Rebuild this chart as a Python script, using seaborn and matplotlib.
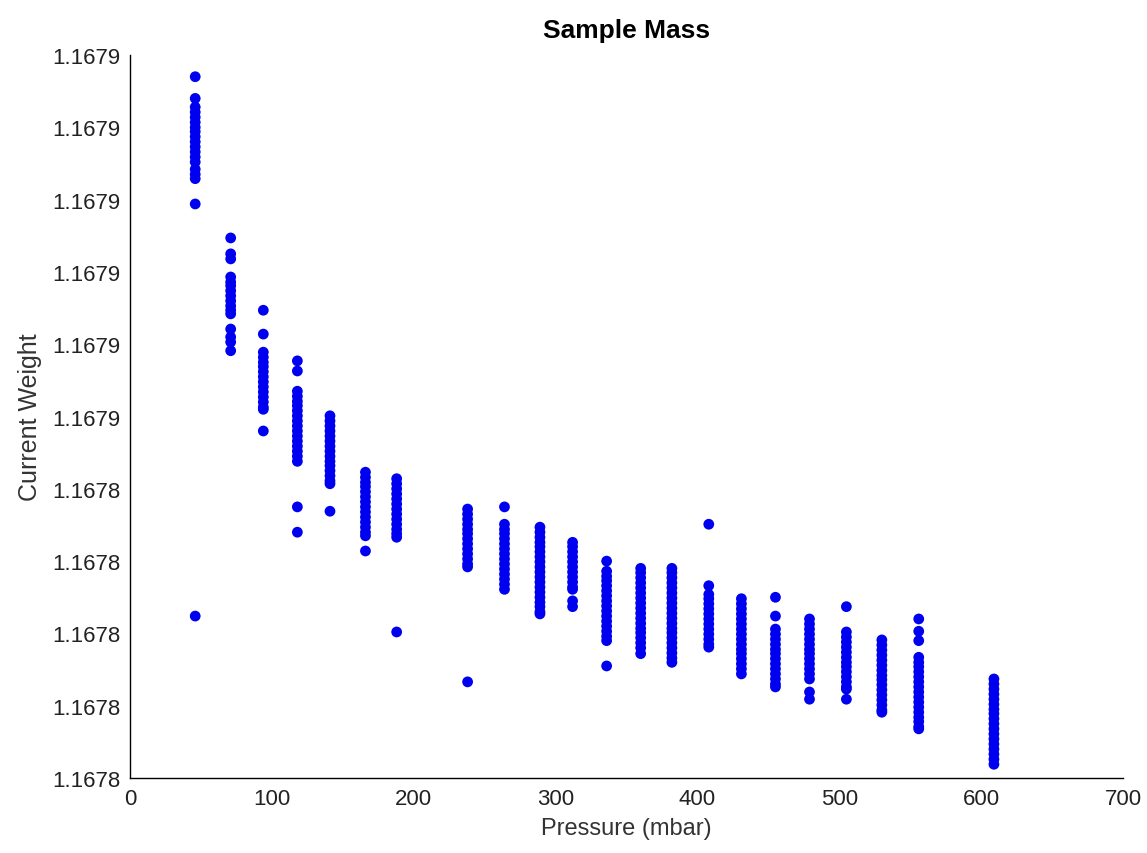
import seaborn as sns
import matplotlib.pyplot as plt
import pandas as pd

# ── data: pressure steps and the weights logged at each step ──────────────────
pressures = [46, 71, 94, 118, 141, 166, 188, 238, 264, 289, 312,
             336, 360, 382, 408, 431, 455, 479, 505, 530, 556, 609]

w_46 = [1.1678970, 1.1678940, 1.1678928, 1.1678921, 1.1678914, 1.1678907, 1.1678900,
        1.1678894, 1.1678887, 1.1678880, 1.1678873, 1.1678866, 1.1678859, 1.1678852,
        1.1678842, 1.1678835, 1.1678829, 1.1678794, 1.1678224]
w_71 = [1.1678747, 1.1678725, 1.1678718, 1.1678693, 1.1678686, 1.1678681, 1.1678674,
        1.1678667, 1.1678660, 1.1678653, 1.1678647, 1.1678642, 1.1678621, 1.1678610,
        1.1678603, 1.1678591]
w_94 = [1.1678647, 1.1678614, 1.1678589, 1.1678582, 1.1678575, 1.1678569, 1.1678562,
        1.1678555, 1.1678548, 1.1678541, 1.1678534, 1.1678527, 1.1678520, 1.1678513,
        1.1678510, 1.1678480]
w_118 = [1.1678577, 1.1678563, 1.1678535, 1.1678528, 1.1678521, 1.1678515, 1.1678508,
         1.1678501, 1.1678494, 1.1678487, 1.1678480, 1.1678473, 1.1678466, 1.1678459,
         1.1678452, 1.1678445, 1.1678438, 1.1678375, 1.1678340]
w_141 = [1.1678501, 1.1678494, 1.1678487, 1.1678480, 1.1678473, 1.1678466, 1.1678459,
         1.1678452, 1.1678445, 1.1678438, 1.1678432, 1.1678425, 1.1678418, 1.1678411,
         1.1678407, 1.1678369]
w_166 = [1.1678423, 1.1678416, 1.1678409, 1.1678403, 1.1678396, 1.1678389, 1.1678382,
         1.1678375, 1.1678368, 1.1678361, 1.1678354, 1.1678347, 1.1678340, 1.1678335,
         1.1678314]
w_188 = [1.1678414, 1.1678407, 1.1678400, 1.1678393, 1.1678386, 1.1678379, 1.1678372,
         1.1678365, 1.1678358, 1.1678351, 1.1678344, 1.1678338, 1.1678333, 1.1678202]
w_238 = [1.1678372, 1.1678365, 1.1678358, 1.1678351, 1.1678344, 1.1678338, 1.1678331,
         1.1678324, 1.1678317, 1.1678310, 1.1678303, 1.1678296, 1.1678292, 1.1678133]
w_264 = [1.1678375, 1.1678351, 1.1678344, 1.1678338, 1.1678331, 1.1678324, 1.1678317,
         1.1678310, 1.1678303, 1.1678296, 1.1678289, 1.1678282, 1.1678275, 1.1678268,
         1.1678261]
w_289 = [1.1678347, 1.1678340, 1.1678333, 1.1678326, 1.1678320, 1.1678313, 1.1678306,
         1.1678299, 1.1678292, 1.1678285, 1.1678278, 1.1678271, 1.1678264, 1.1678257,
         1.1678250, 1.1678243, 1.1678237, 1.1678230, 1.1678227]
w_312 = [1.1678326, 1.1678320, 1.1678313, 1.1678306, 1.1678299, 1.1678292, 1.1678285,
         1.1678278, 1.1678271, 1.1678264, 1.1678261, 1.1678245, 1.1678237]
w_336 = [1.1678300, 1.1678286, 1.1678279, 1.1678273, 1.1678266, 1.1678259, 1.1678252,
         1.1678245, 1.1678238, 1.1678231, 1.1678224, 1.1678217, 1.1678210, 1.1678203,
         1.1678196, 1.1678190, 1.1678155]
w_360 = [1.1678290, 1.1678284, 1.1678277, 1.1678270, 1.1678263, 1.1678256, 1.1678249,
         1.1678242, 1.1678235, 1.1678228, 1.1678221, 1.1678214, 1.1678207, 1.1678201,
         1.1678194, 1.1678187, 1.1678180, 1.1678172]
w_382 = [1.1678290, 1.1678284, 1.1678277, 1.1678270, 1.1678263, 1.1678256, 1.1678249,
         1.1678242, 1.1678235, 1.1678228, 1.1678221, 1.1678214, 1.1678207, 1.1678201,
         1.1678194, 1.1678187, 1.1678180, 1.1678173, 1.1678166, 1.1678160]
w_408 = [1.1678351, 1.1678266, 1.1678254, 1.1678248, 1.1678241, 1.1678234, 1.1678227,
         1.1678220, 1.1678213, 1.1678206, 1.1678199, 1.1678192, 1.1678185, 1.1678181]
w_431 = [1.1678248, 1.1678241, 1.1678234, 1.1678227, 1.1678220, 1.1678213, 1.1678206,
         1.1678199, 1.1678192, 1.1678185, 1.1678178, 1.1678172, 1.1678165, 1.1678158,
         1.1678151, 1.1678144]
w_455 = [1.1678250, 1.1678224, 1.1678206, 1.1678199, 1.1678192, 1.1678185, 1.1678178,
         1.1678172, 1.1678165, 1.1678158, 1.1678151, 1.1678144, 1.1678137, 1.1678130,
         1.1678126]
w_479 = [1.1678220, 1.1678213, 1.1678206, 1.1678199, 1.1678192, 1.1678185, 1.1678178,
         1.1678172, 1.1678165, 1.1678158, 1.1678151, 1.1678144, 1.1678137, 1.1678119,
         1.1678109]
w_505 = [1.1678237, 1.1678202, 1.1678195, 1.1678188, 1.1678181, 1.1678174, 1.1678167,
         1.1678160, 1.1678154, 1.1678147, 1.1678140, 1.1678133, 1.1678126, 1.1678123,
         1.1678109]
w_530 = [1.1678191, 1.1678184, 1.1678177, 1.1678170, 1.1678163, 1.1678156, 1.1678149,
         1.1678142, 1.1678136, 1.1678129, 1.1678122, 1.1678115, 1.1678108, 1.1678101,
         1.1678094, 1.1678091]
w_556 = [1.1678220, 1.1678203, 1.1678190, 1.1678167, 1.1678160, 1.1678154, 1.1678147,
         1.1678140, 1.1678133, 1.1678126, 1.1678119, 1.1678112, 1.1678105, 1.1678098,
         1.1678091, 1.1678084, 1.1678078, 1.1678071, 1.1678068]
w_609 = [1.1678137, 1.1678130, 1.1678123, 1.1678116, 1.1678109, 1.1678102, 1.1678095,
         1.1678089, 1.1678082, 1.1678075, 1.1678068, 1.1678061, 1.1678054, 1.1678047,
         1.1678040, 1.1678033, 1.1678026, 1.1678019]

weights = [w_46, w_71, w_94, w_118, w_141, w_166, w_188, w_238, w_264, w_289, w_312,
           w_336, w_360, w_382, w_408, w_431, w_455, w_479, w_505, w_530, w_556, w_609]

x_ticks = [0, 100, 200, 300, 400, 500, 600, 700]
y_ticks = [1.16780, 1.16781, 1.16782, 1.16783, 1.16784, 1.16785,
           1.16786, 1.16787, 1.16788, 1.16789, 1.16790]
y_tick_labels = ["1.1678"] * 5 + ["1.1679"] * 6

# long table for seaborn
rows = []
for p, ws in zip(pressures, weights):
    for w in ws:
        rows.append({"Pressure": p, "Weight": w})
df = pd.DataFrame(rows)

# ── plot ──────────────────────────────────────────────────────────────────────
sns.set_style("white")
plt.rcParams["font.family"] = ["Liberation Sans", "DejaVu Sans"]

fig = plt.figure(figsize=(11.47, 8.54), dpi=100)
ax = fig.add_axes([0.1133, 0.0878, 0.8658, 0.8466])

sns.scatterplot(data=df, x="Pressure", y="Weight", ax=ax,
                color="#0000f0", s=60, linewidth=0, edgecolor="none")

ax.set_xlim(0, 700)
ax.set_ylim(y_ticks[0], y_ticks[-1])
ax.set_xticks(x_ticks)
ax.set_xticklabels([str(t) for t in x_ticks])
ax.set_yticks(y_ticks)
ax.set_yticklabels(y_tick_labels)

sns.despine(ax=ax)
for side in ["left", "bottom"]:
    ax.spines[side].set_color("black")
    ax.spines[side].set_linewidth(1.0)
ax.tick_params(direction="in", length=5, width=1, colors="black",
               labelsize=16, labelcolor="#222222", pad=7)

ax.set_title("Sample Mass", fontsize=19, fontweight="bold", pad=13, color="black")
ax.set_xlabel("Pressure (mbar)", fontsize=17, color="#333333", labelpad=6)
ax.set_ylabel("Current Weight", fontsize=18, color="#333333", labelpad=7)

plt.savefig("out.png", dpi=100)
